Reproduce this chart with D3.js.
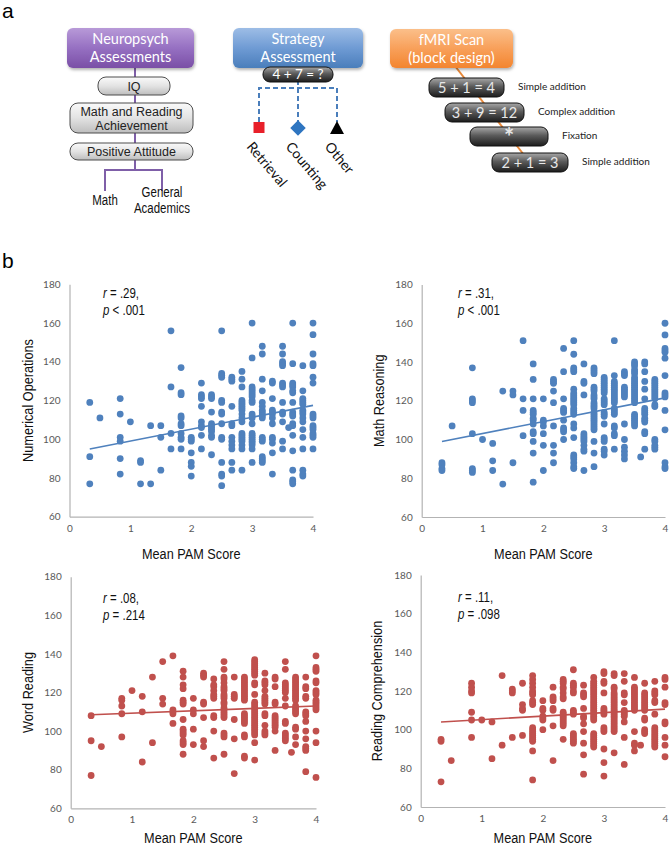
<!DOCTYPE html>
<html><head><meta charset="utf-8">
<script src="https://cdn.jsdelivr.net/npm/d3@7"></script>
<style>
html,body{margin:0;padding:0;background:#fff;}
svg{display:block;}
</style>
</head><body>
<svg id="fig" width="670" height="848"></svg>
<script>
// ---------- DATA ----------
const pamLevels = [0.333,0.5,0.833,1.0,1.167,1.333,1.5,1.667,1.833,2.0,2.167,2.333,2.5,2.667,2.833,3.0,3.167,3.333,3.5,3.6,3.667,3.833,4.0];
const xTicks = [0,1,2,3,4];
const yTicks = [60,80,100,120,140,160,180];
const fitX = [0.333, 4];

const numericalOperations = [
 [119,91,77],[111],[121,113,101,99,90,82],[109],[89,88,77],[107,77],[107,101,84],[156,127,103,95],
 [137,124,123,112,111,108,107,103,101,100,95],[101,100,99,93,88,86,81],
 [129,123,122,121,117,109,107,106,102,95],[123,122,121,114,108,107,106,105,104,102,101,92],
 [156,134,133,132,120,119,114,113,108,101,100,88,82,81,76],[132,131,130,117,108,107,101,99,97,95,88,84],
 [135,131,127,120,119,118,117,116,115,113,111,109,103,102,101,100,99,97,95,84],
 [160,142,127,126,125,124,123,122,120,119,113,112,111,108,103,102,101,100,99,98,97,95,88],
 [148,144,131,125,119,117,115,114,113,112,111,101,100,99,91,90,89,88],
 [130,129,121,115,114,113,111,108,101,100,98,93,82],
 [148,144,140,139,138,129,128,127,119,114,113,109,99,95],[106],
 [160,139,129,128,127,125,124,119,114,113,112,108,107,102,94,84,79,78,77],
 [138,125,121,120,119,118,115,114,113,111,109,105,101,95,84,82,81],
 [160,154,144,139,138,132,129,113,112,111,107,106,105,103,102,101,95]
];
const mathReasoning = [
 [88,87,85,84],[107],[137,121,120,119,103,85,84,83],[100],[98,89,84],[125,77],[125,123,88],[151,121,115,102],
 [139,131,121,115,114,113,111,110,108,104,103,99,93,78],[121,110,109,107,103,97,84],
 [131,130,129,125,119,107,97,93,88],[147,135,121,116,115,114,110,106,105,104,100],
 [151,144,137,136,135,126,124,123,122,121,120,119,118,116,115,114,113,108,106,101,92,91,90,88,86,85],
 [139,130,129,123,103,102,101,100,99,97,95,94,84],
 [137,136,135,134,127,126,125,123,122,121,119,118,117,116,114,113,112,111,110,109,108,107,106,105,99,93,86],
 [132,131,130,129,128,127,126,125,124,121,120,119,118,114,113,112,108,101,100,99,95,94,92],
 [151,133,130,129,128,127,126,125,124,123,122,121,120,119,116,115,114,113,107,106,103,102,95],
 [135,134,133,127,126,125,124,123,122,108,100,96,94,92,90],
 [140,139,138,136,135,134,132,131,130,129,128,127,126,125,124,123,122,121,120,119,113,112,111,110,109,108,107],[91],
 [140,139,135,130,126,121,116,115,114,113,111,110,109,104,103,95],
 [131,130,129,128,127,126,125,124,123,122,121,118,117,100,99,97,96,95],
 [160,154,147,146,145,142,133,124,123,122,115,105,88,86,85]
];
const wordReading = [
 [108,95,77],[92],[117,116,113,109,97],[121],[118,110,84],[128,94],[136,117,114],[139,111,110,109,104],
 [131,128,124,122,116,115,114,106,101,100,99,98,95,94,93,88],[117,111,109,101,93],
 [130,129,128,115,114,107,95,92],[127,124,123,121,119,118,117,108,107,100,86],
 [136,132,128,127,125,123,122,121,119,118,117,115,114,112,111,110,109,108,107,99,98,97,88],
 [128,119,118,117,106,96,78],
 [128,127,126,125,124,123,122,121,120,119,118,117,116,109,108,107,106,105,104,98,97,87,86],
 [137,136,135,134,133,132,131,130,129,125,124,119,115,114,113,112,111,110,109,108,107,106,105,104,103,102,101,100,99,98,94,85],
 [130,126,125,124,121,118,117,116,115,114,109,108,103,100,99,98],
 [128,127,123,115,114,108,107,106,105,104,103,102,100,90],
 [136,132,125,124,123,122,121,120,117,113,105,104,99,98,97,96,95],[89],
 [128,127,126,125,124,123,122,121,120,119,118,117,116,113,112,111,110,109,102,101,97,93],
 [128,123,122,118,117,110,109,108,105,100,96,92,91,90,79],
 [139,133,132,131,126,125,121,120,119,116,115,114,113,112,111,100,94,76]
];
const readingComprehension = [
 [95,94,73],[84],[124,122,120,119,109,105,96],[105],[104,85],[128,92],[121,120,119,96],[124,113,111,110,97],
 [128,126,124,122,120,119,118,115,114,113,101,100,99,98,97,96,95,94,89,74],[115,111,110,107,106,105,100],
 [122,117,116,115,111,110,102,84],[126,125,124,122,121,119,117,116,109,108,107,106,105,104,103,102,95],
 [131,124,123,122,120,119,110,109,108,98,97,96,95,94,93],[123,119,118,117,111,107,106,103,99,93,87,77],
 [127,125,124,123,122,121,120,119,118,117,116,115,114,113,112,111,110,109,108,107,106,105,98,97,96,95,94,93,92,91],
 [130,129,125,124,119,111,110,109,108,101,100,99,90,83,76],
 [129,128,122,121,119,118,117,116,115,114,113,112,111,110,109,108,107,106,105,104,103,102,101,100,99,88],
 [129,125,119,118,114,110,109,108,107,104,96,82],
 [127,122,121,120,119,118,117,116,115,114,113,112,111,110,99,93,92,89],[92],
 [124,119,118,117,116,115,114,113,112,111,110,106,105,100,99,98],
 [125,120,119,118,115,114,108,101,100,99,98,97,96,95,94,93,92,91],
 [127,126,122,114,113,104,103,96,92,86]
];
const fitNumerical = [95, 117.5];
const fitMathReasoning = [99, 121.5];
const fitWordReading = [108.5, 113];
const fitReadingComp = [104, 110.6];

const panelTitles = ["Numerical Operations","Math Reasoning","Word Reading","Reading Comprehension"];
const statR = [".29,", ".31,", ".08,", ".11,"];
const statP = ["< .001", "< .001", "= .214", "= .098"];

const neuroSteps = ["IQ", "Math and Reading|Achievement", "Positive Attitude"];
const attitudeLeaves = ["Math", "General|Academics"];
const strategies = ["Retrieval", "Counting", "Other"];
const fmriBlocks = ["5 + 1 = 4", "3 + 9 = 12", "*", "2 + 1 = 3"];
const fmriLabels = ["Simple addition", "Complex addition", "Fixation", "Simple addition"];

// ---------- DRAW ----------
const svg = d3.select("#fig");
const SANS = "'Liberation Sans',Arial,sans-serif";
const CAL = "Lato,'Open Sans',sans-serif";
const NX = 0.82; // horizontal condensing for Arial-Narrow-like text
const defs = svg.append("defs");
function grad(id, stops){
  const g = defs.append("linearGradient").attr("id", id).attr("x1",0).attr("y1",0).attr("x2",0).attr("y2",1);
  stops.forEach(s=>g.append("stop").attr("offset",s[0]).attr("stop-color",s[1]));
}
grad("gPurple", [[0,"#b89ad8"],[0.5,"#9670c2"],[1,"#7a4fa6"]]);
grad("gBlue", [[0,"#9dbde6"],[0.5,"#6f9bd4"],[1,"#4a7ebb"]]);
grad("gOrange", [[0,"#fbbf8a"],[0.5,"#f8a05a"],[1,"#f3852f"]]);
grad("gGray", [[0,"#fafafa"],[0.5,"#e3e3e3"],[1,"#bdbdbd"]]);
grad("gDark", [[0,"#a8a8a8"],[0.45,"#5a5a5a"],[1,"#1c1c1c"]]);
const sh = defs.append("filter").attr("id","shadow").attr("x","-10%").attr("y","-10%").attr("width","130%").attr("height","140%");
sh.append("feDropShadow").attr("dx",1).attr("dy",2).attr("stdDeviation",1.5).attr("flood-color","#000").attr("flood-opacity",0.3);

function narrow(parent, x, y, rot, size){
  return parent.append("g").attr("transform",`translate(${x},${y}) rotate(${rot}) scale(${NX},1)`)
    .append("text").attr("font-family",SANS).attr("font-size",size).attr("fill","#111");
}

svg.append("text").attr("x",2).attr("y",18).attr("font-family",SANS).attr("font-size",21).text("a");
svg.append("text").attr("x",2).attr("y",268).attr("font-family",SANS).attr("font-size",21).text("b");

// ---- Neuropsych column ----
const A = svg.append("g");
const nx = 135;
A.append("line").attr("x1",nx).attr("x2",nx).attr("y1",60).attr("y2",170).attr("stroke","#7f5fa8").attr("stroke-width",2);
function bigBox(g, x, y, w, h, fill, lines){
  g.append("rect").attr("x",x).attr("y",y).attr("width",w).attr("height",h).attr("rx",6)
   .attr("fill",`url(#${fill})`).attr("filter","url(#shadow)");
  lines.forEach((t,i)=>g.append("text").attr("x",x+w/2).attr("y",y+16+i*18).attr("text-anchor","middle")
    .attr("font-family",CAL).attr("font-size",14.5).attr("fill","#fff").text(t));
}
bigBox(A, 67, 28, 127, 40, "gPurple", ["Neuropsych","Assessments"]);
const neuroBoxes = [[98,77,72,18],[70,103,123,30],[70,143,123,17]];
neuroSteps.forEach((s,i)=>{
  const b = neuroBoxes[i];
  A.append("rect").attr("x",b[0]).attr("y",b[1]).attr("width",b[2]).attr("height",b[3]).attr("rx",8)
   .attr("fill","url(#gGray)").attr("stroke","#4d4d4d").attr("stroke-width",1);
  const lines = s.split("|");
  lines.forEach((t,j)=>A.append("text").attr("x",b[0]+b[2]/2)
    .attr("y",b[1]+b[3]/2+4.5+(j-(lines.length-1)/2)*14).attr("text-anchor","middle")
    .attr("font-family",SANS).attr("font-size",12.5).attr("fill","#222").text(t));
});
A.append("path").attr("d","M105,191V170H162V191").attr("fill","none").attr("stroke","#7f5fa8").attr("stroke-width",2);
[[105,205],[162,197]].forEach((p,i)=>{
  attitudeLeaves[i].split("|").forEach((t,j)=>narrow(A, p[0], p[1]+j*16, 0, 14).attr("text-anchor","middle").text(t));
});

// ---- Strategy column ----
const B = svg.append("g");
const sx = [259, 298, 337];
B.append("path").attr("d",`M${sx[0]},122V88H${sx[2]}V122M${sx[1]},80V122`).attr("fill","none")
  .attr("stroke","#4a7ebb").attr("stroke-width",2).attr("stroke-dasharray","5,3");
bigBox(B, 233, 28, 130, 40, "gBlue", ["Strategy","Assessment"]);
B.append("rect").attr("x",263).attr("y",67).attr("width",70).attr("height",15).attr("rx",7)
  .attr("fill","url(#gDark)").attr("stroke","#111");
B.append("text").attr("x",298).attr("y",79).attr("text-anchor","middle").attr("font-family",CAL)
  .attr("font-size",13.5).attr("fill","#fff").text("4 + 7 = ?");
B.append("rect").attr("x",sx[0]-5.5).attr("y",122).attr("width",11).attr("height",11).attr("fill","#e8202a");
B.append("rect").attr("x",-5.5).attr("y",-5.5).attr("width",11).attr("height",11)
  .attr("transform",`translate(${sx[1]},128) rotate(45)`).attr("fill","#2e75c0");
B.append("path").attr("d",`M${sx[2]-7},134L${sx[2]},121L${sx[2]+7},134Z`).attr("fill","#000");
strategies.forEach((s,i)=>{
  B.append("text").attr("transform",`translate(${sx[i]-13},147) rotate(50)`).attr("font-family",CAL)
   .attr("font-size",14).attr("fill","#111").text(s);
});

// ---- fMRI column ----
const C = svg.append("g");
C.append("line").attr("x1",455).attr("y1",66).attr("x2",524).attr("y2",155).attr("stroke","#e8893a").attr("stroke-width",2);
bigBox(C, 390, 29, 123, 39, "gOrange", ["fMRI Scan","(block design)"]);
const pills = [[429,78,75],[445,103,79],[470,127,78],[492,153,76]];
fmriBlocks.forEach((t,i)=>{
  const p = pills[i];
  C.append("rect").attr("x",p[0]).attr("y",p[1]).attr("width",p[2]).attr("height",19).attr("rx",7)
   .attr("fill","url(#gDark)").attr("stroke","#111");
  C.append("text").attr("x",p[0]+p[2]/2).attr("y",p[1]+(t==="*"?19:15)).attr("text-anchor","middle")
   .attr("font-family",CAL).attr("font-size",t==="*"?24:14.5).attr("font-weight",t==="*"?"bold":"normal")
   .attr("fill","#e8e8e8").text(t);
  C.append("text").attr("x",p[0]+p[2]+14).attr("y",p[1]+12).attr("font-family",CAL)
   .attr("font-size",10).attr("fill","#222").text(fmriLabels[i]);
});

// ---- Scatter panels ----
const panels = [
  {data:numericalOperations, fit:fitNumerical, color:"#4f81bd", x0:69.5, x1:313, yT:284.3, yB:516.7, titleX:33, xtY:559, sx:103, sy:298},
  {data:mathReasoning, fit:fitMathReasoning, color:"#4f81bd", x0:421.7, x1:665, yT:284.5, yB:517, titleX:384, xtY:559, sx:458, sy:298},
  {data:wordReading, fit:fitWordReading, color:"#c0504d", x0:70.7, x1:316, yT:576.7, yB:808.3, titleX:33, xtY:843, sx:103, sy:603},
  {data:readingComprehension, fit:fitReadingComp, color:"#c0504d", x0:420.7, x1:665, yT:575, yB:807, titleX:382, xtY:843, sx:458, sy:602}
];
panels.forEach((P,pi)=>{
  const g = svg.append("g");
  const x = d3.scaleLinear().domain([0,4]).range([P.x0,P.x1]);
  const y = d3.scaleLinear().domain([60,180]).range([P.yB,P.yT]);
  const yAx = g.append("g").attr("transform",`translate(${P.x0},0)`)
    .call(d3.axisLeft(y).tickValues(yTicks).tickFormat(d3.format("d")).tickSize(0).tickPadding(9));
  const xAx = g.append("g").attr("transform",`translate(0,${P.yB})`)
    .call(d3.axisBottom(x).tickValues(xTicks).tickFormat(d3.format("d")).tickSize(0).tickPadding(8));
  [yAx,xAx].forEach(a=>{
    a.select(".domain").attr("stroke","#b3b3b3").attr("stroke-width",1.2);
    a.selectAll("text").attr("font-family",CAL).attr("font-size",10).attr("fill","#595959");
  });
  const pts = [];
  P.data.forEach((col,i)=>col.forEach(v=>pts.push([pamLevels[i], v])));
  g.selectAll("circle").data(pts).join("circle")
    .attr("cx",d=>x(d[0])).attr("cy",d=>y(d[1])).attr("r",3.4).attr("fill",P.color);
  g.append("line").attr("x1",x(fitX[0])).attr("y1",y(P.fit[0])).attr("x2",x(fitX[1])).attr("y2",y(P.fit[1]))
    .attr("stroke",P.color).attr("stroke-width",1.6);
  narrow(g, P.titleX, (P.yT+P.yB)/2, -90, 15.5).attr("text-anchor","middle").text(panelTitles[pi]);
  narrow(g, (P.x0+P.x1)/2, P.xtY, 0, 15.5).attr("text-anchor","middle").text("Mean PAM Score");
  const t1 = narrow(g, P.sx, P.sy, 0, 14);
  t1.append("tspan").attr("font-style","italic").text("r");
  t1.append("tspan").text(" = " + statR[pi]);
  const t2 = narrow(g, P.sx, P.sy+17, 0, 14);
  t2.append("tspan").attr("font-style","italic").text("p");
  t2.append("tspan").text(" " + statP[pi]);
});
</script>
</body></html>
